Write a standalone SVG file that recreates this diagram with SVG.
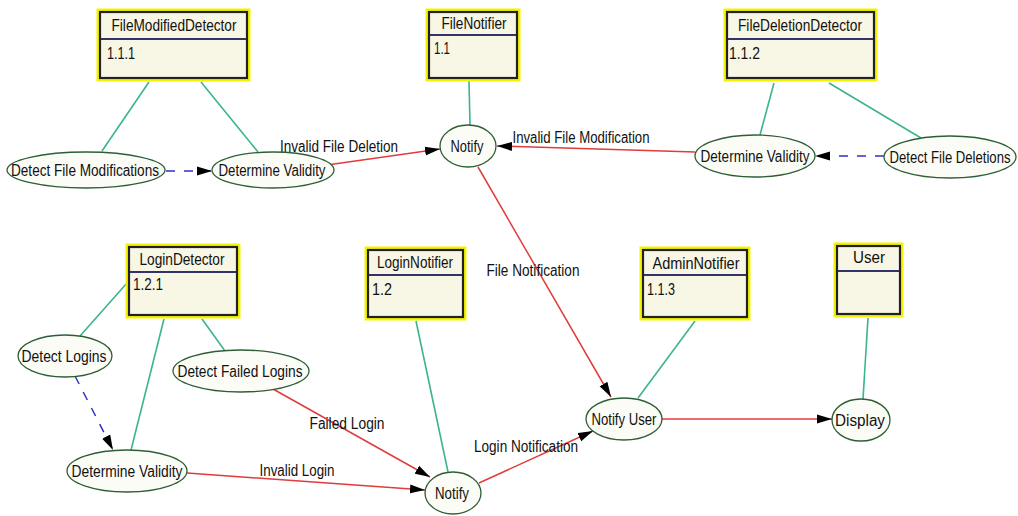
<svg xmlns="http://www.w3.org/2000/svg" width="1018" height="516" viewBox="0 0 1018 516">
  <style>
    .bg { fill: #ffffff; }
    .box-glow { fill: none; stroke: #f4f400; stroke-width: 7; }
    .box { fill: #f8f6e4; stroke: #222222; stroke-width: 2.2; }
    .divider { stroke: #33336a; stroke-width: 2; }
    .proc { fill: #fcfcf6; stroke: #2e5e36; stroke-width: 1.3; }
    .t { font-family: "Liberation Sans", Arial, sans-serif; font-size: 16px; fill: #111111; }
    .c { text-anchor: middle; }
    .assoc { stroke: #3cb48c; stroke-width: 1.6; fill: none; }
    .flow { stroke: #e03c3c; stroke-width: 1.5; fill: none; marker-end: url(#arrow); }
    .trigger { stroke: #3030c8; stroke-width: 1.5; fill: none; stroke-dasharray: 9 9; marker-end: url(#arrow); }
  </style>
  <defs>
    <marker id="arrow" markerUnits="userSpaceOnUse" markerWidth="16" markerHeight="10" refX="15" refY="5" orient="auto">
      <path d="M0,0.5 L15,5 L0,9.5 z" fill="#000000"/>
    </marker>
  </defs>

  <rect class="bg" x="0" y="0" width="1018" height="516"/>

  <!-- association lines between components and their processes -->
  <g id="associations">
    <line class="assoc" x1="149" y1="82" x2="102" y2="151"/>
    <line class="assoc" x1="201" y1="82" x2="258" y2="152"/>
    <line class="assoc" x1="469" y1="81" x2="470" y2="125"/>
    <line class="assoc" x1="774" y1="83" x2="760" y2="135"/>
    <line class="assoc" x1="829" y1="83" x2="921" y2="138"/>
    <line class="assoc" x1="127" y1="283" x2="80" y2="336"/>
    <line class="assoc" x1="164" y1="319" x2="131" y2="450"/>
    <line class="assoc" x1="202" y1="319" x2="225" y2="351"/>
    <line class="assoc" x1="416" y1="321" x2="448" y2="472"/>
    <line class="assoc" x1="695" y1="321" x2="638" y2="398"/>
    <line class="assoc" x1="868" y1="318" x2="863" y2="399"/>
  </g>

  <!-- data flows and triggers -->
  <g id="connectors">
    <line class="trigger" x1="884" y1="156" x2="815" y2="156"/>
    <line class="trigger" x1="166" y1="171" x2="212" y2="171"/>
    <line class="flow" x1="327" y1="165" x2="440" y2="149"/>
    <line class="flow" x1="695" y1="152" x2="497" y2="146"/>
    <line class="flow" x1="478" y1="167" x2="611" y2="397"/>
    <line class="trigger" x1="75" y1="376" x2="113" y2="450"/>
    <line class="flow" x1="273" y1="389" x2="430" y2="477"/>
    <line class="flow" x1="187" y1="473" x2="425" y2="490"/>
    <line class="flow" x1="479" y1="483" x2="593" y2="431"/>
    <line class="flow" x1="662" y1="419" x2="832" y2="419"/>
    <text class="t c" x="339" y="152" textLength="118" lengthAdjust="spacingAndGlyphs">Invalid File Deletion</text>
    <text class="t c" x="581" y="143" textLength="137" lengthAdjust="spacingAndGlyphs">Invalid File Modification</text>
    <text class="t c" x="533" y="276" textLength="93" lengthAdjust="spacingAndGlyphs">File Notification</text>
    <text class="t c" x="347" y="429" textLength="75" lengthAdjust="spacingAndGlyphs">Failed Login</text>
    <text class="t c" x="297" y="476" textLength="75" lengthAdjust="spacingAndGlyphs">Invalid Login</text>
    <text class="t c" x="526" y="452" textLength="104" lengthAdjust="spacingAndGlyphs">Login Notification</text>
  </g>

  <!-- components -->
  <g id="file-modified-detector">
    <rect class="box-glow" x="100" y="12" width="147" height="66"/>
    <rect class="box" x="100" y="12" width="147" height="66"/>
    <line class="divider" x1="101" y1="39" x2="246" y2="39"/>
    <text class="t c" x="174" y="31" textLength="125" lengthAdjust="spacingAndGlyphs">FileModifiedDetector</text>
    <text class="t" x="107" y="59" textLength="28" lengthAdjust="spacingAndGlyphs">1.1.1</text>
  </g>
  <g id="file-notifier">
    <rect class="box-glow" x="429" y="12" width="88" height="66"/>
    <rect class="box" x="429" y="12" width="88" height="66"/>
    <line class="divider" x1="430" y1="35" x2="516" y2="35"/>
    <text class="t c" x="474" y="29" textLength="65" lengthAdjust="spacingAndGlyphs">FileNotifier</text>
    <text class="t" x="434" y="54" textLength="16" lengthAdjust="spacingAndGlyphs">1.1</text>
  </g>
  <g id="file-deletion-detector">
    <rect class="box-glow" x="727" y="12" width="147" height="66"/>
    <rect class="box" x="727" y="12" width="147" height="66"/>
    <line class="divider" x1="728" y1="39" x2="873" y2="39"/>
    <text class="t c" x="800" y="31" textLength="124" lengthAdjust="spacingAndGlyphs">FileDeletionDetector</text>
    <text class="t" x="729" y="59" textLength="31" lengthAdjust="spacingAndGlyphs">1.1.2</text>
  </g>
  <g id="login-detector">
    <rect class="box-glow" x="129" y="247" width="108" height="68"/>
    <rect class="box" x="129" y="247" width="108" height="68"/>
    <line class="divider" x1="130" y1="272" x2="236" y2="272"/>
    <text class="t c" x="182" y="265" textLength="85" lengthAdjust="spacingAndGlyphs">LoginDetector</text>
    <text class="t" x="133" y="290" textLength="30" lengthAdjust="spacingAndGlyphs">1.2.1</text>
  </g>
  <g id="login-notifier">
    <rect class="box-glow" x="368" y="250" width="95" height="67"/>
    <rect class="box" x="368" y="250" width="95" height="67"/>
    <line class="divider" x1="369" y1="275" x2="462" y2="275"/>
    <text class="t c" x="415" y="268" textLength="76" lengthAdjust="spacingAndGlyphs">LoginNotifier</text>
    <text class="t" x="372" y="295" textLength="20" lengthAdjust="spacingAndGlyphs">1.2</text>
  </g>
  <g id="admin-notifier">
    <rect class="box-glow" x="643" y="250" width="104" height="67"/>
    <rect class="box" x="643" y="250" width="104" height="67"/>
    <line class="divider" x1="644" y1="275" x2="746" y2="275"/>
    <text class="t c" x="696" y="269" textLength="87" lengthAdjust="spacingAndGlyphs">AdminNotifier</text>
    <text class="t" x="647" y="295" textLength="28" lengthAdjust="spacingAndGlyphs">1.1.3</text>
  </g>
  <g id="user">
    <rect class="box-glow" x="837" y="246" width="63" height="68"/>
    <rect class="box" x="837" y="246" width="63" height="68"/>
    <line class="divider" x1="838" y1="271" x2="899" y2="271"/>
    <text class="t c" x="869" y="263" textLength="32" lengthAdjust="spacingAndGlyphs">User</text>
  </g>

  <!-- processes -->
  <g id="detect-file-modifications">
    <ellipse class="proc" cx="86" cy="170" rx="79" ry="18"/>
    <text class="t c" x="85" y="176" textLength="148" lengthAdjust="spacingAndGlyphs">Detect File Modifications</text>
  </g>
  <g id="determine-validity-modified">
    <ellipse class="proc" cx="273" cy="170" rx="61" ry="18"/>
    <text class="t c" x="272" y="176" textLength="107" lengthAdjust="spacingAndGlyphs">Determine Validity</text>
  </g>
  <g id="notify-file">
    <ellipse class="proc" cx="468" cy="146" rx="28" ry="21"/>
    <text class="t c" x="467" y="152" textLength="33" lengthAdjust="spacingAndGlyphs">Notify</text>
  </g>
  <g id="determine-validity-deleted">
    <ellipse class="proc" cx="755" cy="156" rx="60" ry="21"/>
    <text class="t c" x="755" y="162" textLength="109" lengthAdjust="spacingAndGlyphs">Determine Validity</text>
  </g>
  <g id="detect-file-deletions">
    <ellipse class="proc" cx="950" cy="157" rx="66" ry="21"/>
    <text class="t c" transform="translate(950 163) scale(0.82 1)">Detect File Deletions</text>
  </g>
  <g id="detect-logins">
    <ellipse class="proc" cx="65" cy="356" rx="47" ry="21"/>
    <text class="t c" x="64" y="362" textLength="85" lengthAdjust="spacingAndGlyphs">Detect Logins</text>
  </g>
  <g id="detect-failed-logins">
    <ellipse class="proc" cx="241" cy="371" rx="68" ry="21"/>
    <text class="t c" x="240" y="377" textLength="125" lengthAdjust="spacingAndGlyphs">Detect Failed Logins</text>
  </g>
  <g id="determine-validity-login">
    <ellipse class="proc" cx="127" cy="471" rx="60" ry="21"/>
    <text class="t c" x="127" y="477" textLength="111" lengthAdjust="spacingAndGlyphs">Determine Validity</text>
  </g>
  <g id="notify-login">
    <ellipse class="proc" cx="453" cy="493" rx="28" ry="21"/>
    <text class="t c" x="452" y="499" textLength="34" lengthAdjust="spacingAndGlyphs">Notify</text>
  </g>
  <g id="notify-user">
    <ellipse class="proc" cx="624" cy="419" rx="38" ry="21"/>
    <text class="t c" x="624" y="425" textLength="65" lengthAdjust="spacingAndGlyphs">Notify User</text>
  </g>
  <g id="display">
    <ellipse class="proc" cx="861" cy="420" rx="29" ry="21"/>
    <text class="t c" x="860" y="426" textLength="50" lengthAdjust="spacingAndGlyphs">Display</text>
  </g>
</svg>
